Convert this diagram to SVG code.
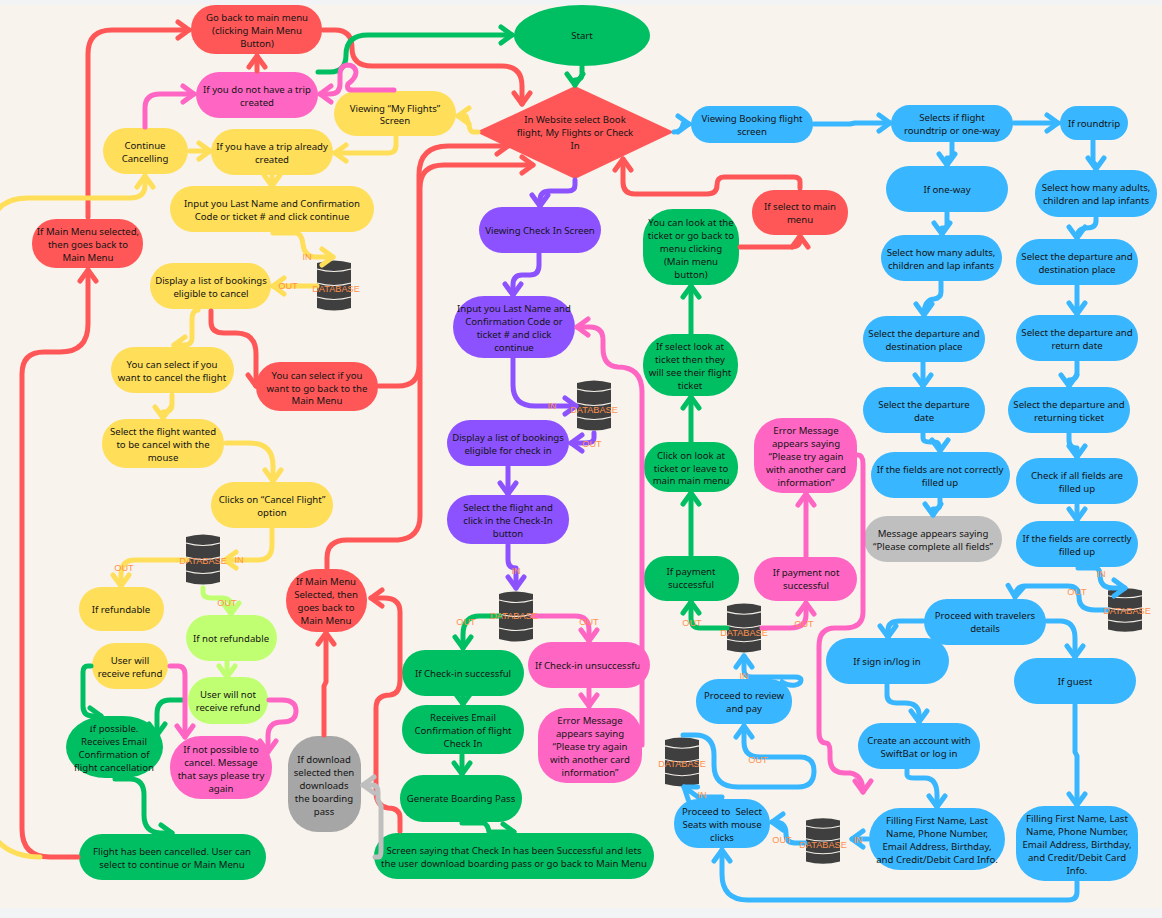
<svg xmlns="http://www.w3.org/2000/svg" width="1162" height="918" viewBox="0 0 1162 918">
<style>
.t{font-family:"Noto Sans","Open Sans",sans-serif;font-size:9.6px;fill:#151515;text-anchor:middle;white-space:pre}
.o{font-family:"Liberation Sans",Arial,sans-serif;font-size:9.2px;fill:#FF914D;text-anchor:middle}
.c path{fill:none;stroke-width:5;stroke-linecap:round;stroke-linejoin:round}
.r{stroke:#FF5757;marker-end:url(#mr)}.g{stroke:#00BF63;marker-end:url(#mg)}.p{stroke:#FF66C4;marker-end:url(#mp)}.y{stroke:#FFDE59;marker-end:url(#my)}.v{stroke:#8C52FF;marker-end:url(#mv)}.b{stroke:#38B6FF;marker-end:url(#mb)}.l{stroke:#C1FF72;marker-end:url(#ml)}.s{stroke:#BFBFBF;marker-end:url(#ms)}
.fr{fill:#FF5757}.fg{fill:#00BF63}.fp{fill:#FF66C4}.fy{fill:#FFDE59}.fv{fill:#8C52FF}.fb{fill:#38B6FF}.fl{fill:#C1FF72}.fs{fill:#BFBFBF}.fd{fill:#A6A6A6}
</style>
<defs>
<marker id="mr" markerUnits="userSpaceOnUse" overflow="visible" orient="auto" refX="0" refY="0" markerWidth="1" markerHeight="1"><path d="M-11,-8L0,0L-11,8" fill="none" stroke="#FF5757" stroke-width="5" stroke-linecap="round" stroke-linejoin="round"/></marker>
<marker id="mg" markerUnits="userSpaceOnUse" overflow="visible" orient="auto" refX="0" refY="0" markerWidth="1" markerHeight="1"><path d="M-11,-8L0,0L-11,8" fill="none" stroke="#00BF63" stroke-width="5" stroke-linecap="round" stroke-linejoin="round"/></marker>
<marker id="mp" markerUnits="userSpaceOnUse" overflow="visible" orient="auto" refX="0" refY="0" markerWidth="1" markerHeight="1"><path d="M-11,-8L0,0L-11,8" fill="none" stroke="#FF66C4" stroke-width="5" stroke-linecap="round" stroke-linejoin="round"/></marker>
<marker id="my" markerUnits="userSpaceOnUse" overflow="visible" orient="auto" refX="0" refY="0" markerWidth="1" markerHeight="1"><path d="M-11,-8L0,0L-11,8" fill="none" stroke="#FFDE59" stroke-width="5" stroke-linecap="round" stroke-linejoin="round"/></marker>
<marker id="mv" markerUnits="userSpaceOnUse" overflow="visible" orient="auto" refX="0" refY="0" markerWidth="1" markerHeight="1"><path d="M-11,-8L0,0L-11,8" fill="none" stroke="#8C52FF" stroke-width="5" stroke-linecap="round" stroke-linejoin="round"/></marker>
<marker id="mb" markerUnits="userSpaceOnUse" overflow="visible" orient="auto" refX="0" refY="0" markerWidth="1" markerHeight="1"><path d="M-11,-8L0,0L-11,8" fill="none" stroke="#38B6FF" stroke-width="5" stroke-linecap="round" stroke-linejoin="round"/></marker>
<marker id="ml" markerUnits="userSpaceOnUse" overflow="visible" orient="auto" refX="0" refY="0" markerWidth="1" markerHeight="1"><path d="M-11,-8L0,0L-11,8" fill="none" stroke="#C1FF72" stroke-width="5" stroke-linecap="round" stroke-linejoin="round"/></marker>
<marker id="ms" markerUnits="userSpaceOnUse" overflow="visible" orient="auto" refX="0" refY="0" markerWidth="1" markerHeight="1"><path d="M-11,-8L0,0L-11,8" fill="none" stroke="#BFBFBF" stroke-width="5" stroke-linecap="round" stroke-linejoin="round"/></marker>
<symbol id="db" viewBox="0 0 34 53" preserveAspectRatio="none" overflow="visible">
<path d="M0,4Q17,-1 34,4V49Q17,54 0,49Z" fill="#3F3F3F"/>
<path d="M0,10Q17,15 34,10M0,24Q17,29 34,24M0,38Q17,43 34,38" fill="none" stroke="#F4EFE8" stroke-width="1.2"/>
</symbol>
</defs>
<rect x="0" y="0" width="1162" height="918" fill="#F1F3F5"/>
<rect x="0" y="5" width="1162" height="903" fill="#F8F4ED"/>

<g id="nodes">
<g id="go-back"><rect class="fr" x="191" y="5" width="131" height="49" rx="24"/><text class="t" x="257" y="21"><tspan x="257">Go back to main menu</tspan><tspan x="257" dy="13">(clicking Main Menu</tspan><tspan x="257" dy="13">Button)</tspan></text></g>
<g id="no-trip"><rect class="fp" x="196" y="72" width="122" height="46" rx="23"/><text class="t" x="257" y="93"><tspan x="257">If you do not have a trip</tspan><tspan x="257" dy="13">created</tspan></text></g>
<g id="my-flights"><rect class="fy" x="334" y="91" width="122" height="45" rx="22.5"/><text class="t" x="395" y="112"><tspan x="395">Viewing “My Flights”</tspan><tspan x="395" dy="12">Screen</tspan></text></g>
<g id="continue"><rect class="fy" x="103" y="128" width="85" height="46" rx="23"/><text class="t" x="145" y="149"><tspan x="145">Continue</tspan><tspan x="145" dy="13">Cancelling</tspan></text></g>
<g id="have-trip"><rect class="fy" x="211" y="129" width="122" height="46" rx="23"/><text class="t" x="272" y="150"><tspan x="272">If you have a trip already</tspan><tspan x="272" dy="13">created</tspan></text></g>
<g id="input-cancel"><rect class="fy" x="170" y="186" width="204" height="46" rx="23"/><text class="t" x="272" y="207"><tspan x="272">Input you Last Name and Confirmation</tspan><tspan x="272" dy="13">Code or ticket # and click continue</tspan></text></g>
<g id="main-selected"><rect class="fr" x="32" y="219" width="111" height="49" rx="24"/><text class="t" x="88" y="235"><tspan x="88">If Main Menu selected,</tspan><tspan x="88" dy="13">then goes back to</tspan><tspan x="88" dy="13">Main Menu</tspan></text></g>
<g id="display-cancel"><rect class="fy" x="150" y="263" width="121" height="46" rx="23"/><text class="t" x="211" y="284"><tspan x="211">Display a list of bookings</tspan><tspan x="211" dy="13">eligible to cancel</tspan></text></g>
<g id="select-cancel"><rect class="fy" x="111" y="347" width="123" height="46" rx="23"/><text class="t" x="172" y="368"><tspan x="172">You can select if you</tspan><tspan x="172" dy="13">want to cancel the flight</tspan></text></g>
<g id="select-main"><rect class="fr" x="256" y="362" width="122" height="49" rx="24"/><text class="t" x="317" y="379"><tspan x="317">You can select if you</tspan><tspan x="317" dy="13">want to go back to the</tspan><tspan x="317" dy="12">Main Menu</tspan></text></g>
<g id="select-flight"><rect class="fy" x="102" y="419" width="122" height="49" rx="24"/><text class="t" x="163" y="435"><tspan x="163">Select the flight wanted</tspan><tspan x="163" dy="13">to be cancel with the</tspan><tspan x="163" dy="13">mouse</tspan></text></g>
<g id="cancel-flight"><rect class="fy" x="211" y="482" width="122" height="46" rx="23"/><text class="t" x="272" y="503"><tspan x="272">Clicks on “Cancel Flight”</tspan><tspan x="272" dy="13">option</tspan></text></g>
<g id="refundable"><rect class="fy" x="79" y="587" width="85" height="44" rx="22"/><text class="t" x="121" y="613">If refundable</text></g>
<g id="not-refundable"><rect class="fl" x="186" y="615" width="91" height="46" rx="23"/><text class="t" x="231" y="642">If not refundable</text></g>
<g id="receive-refund"><rect class="fy" x="92" y="643" width="76" height="46" rx="23"/><text class="t" x="130" y="664"><tspan x="130">User will</tspan><tspan x="130" dy="13">receive refund</tspan></text></g>
<g id="no-refund"><rect class="fl" x="188" y="677" width="80" height="47" rx="23"/><text class="t" x="228" y="698"><tspan x="228">User will not</tspan><tspan x="228" dy="13">receive refund</tspan></text></g>
<g id="if-possible"><rect class="fg" x="66" y="716" width="97" height="62" rx="40" ry="31"/><text class="t" x="114" y="732"><tspan x="114">If possible.</tspan><tspan x="114" dy="13">Receives Email</tspan><tspan x="114" dy="13">Confirmation of</tspan><tspan x="114" dy="13">flight cancellation</tspan></text></g>
<g id="not-possible"><rect class="fp" x="170" y="736" width="102" height="63" rx="31"/><text class="t" x="221" y="753"><tspan x="221">If not possible to</tspan><tspan x="221" dy="13">cancel. Message</tspan><tspan x="221" dy="13">that says please try</tspan><tspan x="221" dy="13">again</tspan></text></g>
<g id="flight-cancelled"><rect class="fg" x="79" y="834" width="187" height="46" rx="23"/><text class="t" x="172" y="855"><tspan x="172">Flight has been cancelled. User can</tspan><tspan x="172" dy="13">select to continue or Main Menu</tspan></text></g>
<g id="download"><rect class="fd" x="288" y="736" width="73" height="96" rx="30"/><text class="t" x="324" y="763"><tspan x="324">If download</tspan><tspan x="324" dy="13">selected then</tspan><tspan x="324" dy="13">downloads</tspan><tspan x="324" dy="13">the boarding</tspan><tspan x="324" dy="13">pass</tspan></text></g>
<g id="main-selected-2"><rect class="fr" x="286" y="569" width="81" height="63" rx="31"/><text class="t" x="326" y="585"><tspan x="326">If Main Menu</tspan><tspan x="326" dy="13">Selected, then</tspan><tspan x="326" dy="13">goes back to</tspan><tspan x="326" dy="13">Main Menu</tspan></text></g>
<g id="screen-success"><rect class="fg" x="374" y="833" width="280" height="46" rx="23"/><text class="t" x="514" y="854"><tspan x="514">Screen saying that Check In has been Successful and lets</tspan><tspan x="514" dy="13">the user download boarding pass or go back to Main Menu</tspan></text></g>
<g id="boarding-pass"><rect class="fg" x="400" y="775" width="122" height="47" rx="23"/><text class="t" x="461" y="802">Generate Boarding Pass</text></g>
<g id="email-checkin"><rect class="fg" x="402" y="705" width="122" height="49" rx="24"/><text class="t" x="463" y="721"><tspan x="463">Receives Email</tspan><tspan x="463" dy="13">Confirmation of flight</tspan><tspan x="463" dy="13">Check In</tspan></text></g>
<g id="checkin-ok"><rect class="fg" x="402" y="650" width="122" height="46" rx="23"/><text class="t" x="463" y="677">If Check-in successful</text></g>
<g id="checkin-fail"><rect class="fp" x="528" y="642" width="122" height="46" rx="23"/><text class="t" x="589" y="669">If Check-in unsuccessful</text></g>
<g id="error-checkin"><rect class="fp" x="538" y="708" width="104" height="75" rx="28"/><text class="t" x="590" y="724"><tspan x="590">Error Message</tspan><tspan x="590" dy="13">appears saying</tspan><tspan x="590" dy="13">“Please try again</tspan><tspan x="590" dy="13">with another card</tspan><tspan x="590" dy="13">information”</tspan></text></g>
<g id="view-checkin"><rect class="fv" x="479" y="207" width="122" height="46" rx="23"/><text class="t" x="540" y="234">Viewing Check In Screen</text></g>
<g id="input-checkin"><rect class="fv" x="453" y="296" width="122" height="62" rx="31"/><text class="t" x="514" y="312"><tspan x="514">Input you Last Name and</tspan><tspan x="514" dy="13">Confirmation Code or</tspan><tspan x="514" dy="13">ticket # and click</tspan><tspan x="514" dy="13">continue</tspan></text></g>
<g id="display-checkin"><rect class="fv" x="447" y="420" width="122" height="46" rx="23"/><text class="t" x="508" y="441"><tspan x="508">Display a list of bookings</tspan><tspan x="508" dy="13">eligible for check in</tspan></text></g>
<g id="select-checkin"><rect class="fv" x="447" y="495" width="122" height="49" rx="24"/><text class="t" x="508" y="511"><tspan x="508">Select the flight and</tspan><tspan x="508" dy="13">click in the Check-In</tspan><tspan x="508" dy="13">button</tspan></text></g>
<g id="start"><ellipse class="fg" cx="582" cy="35.5" rx="68" ry="30.5"/><text class="t" x="582" y="39">Start</text></g>
<g id="website"><polygon class="fr" points="476,132 575,86 674,132 575,179"/><text class="t" x="575" y="123"><tspan x="575">In Website select Book</tspan><tspan x="575" dy="13">flight, My Flights or Check</tspan><tspan x="575" dy="13">In</tspan></text></g>
<g id="view-booking"><rect class="fb" x="691" y="106" width="122" height="37" rx="18.5"/><text class="t" x="752" y="122"><tspan x="752">Viewing Booking flight</tspan><tspan x="752" dy="13">screen</tspan></text></g>
<g id="select-to-main"><rect class="fr" x="752" y="190" width="96" height="45" rx="22"/><text class="t" x="800" y="210"><tspan x="800">If select to main</tspan><tspan x="800" dy="13">menu</tspan></text></g>
<g id="look-ticket"><rect class="fg" x="643" y="209" width="96" height="76" rx="30"/><text class="t" x="691" y="226"><tspan x="691">You can look at the</tspan><tspan x="691" dy="13">ticket or go back to</tspan><tspan x="691" dy="13">menu clicking</tspan><tspan x="691" dy="13">(Main menu</tspan><tspan x="691" dy="13">button)</tspan></text></g>
<g id="see-ticket"><rect class="fg" x="643" y="334" width="95" height="62" rx="30"/><text class="t" x="690" y="350"><tspan x="690">If select look at</tspan><tspan x="690" dy="13">ticket then they</tspan><tspan x="690" dy="13">will see their flight</tspan><tspan x="690" dy="13">ticket</tspan></text></g>
<g id="click-look"><rect class="fg" x="644" y="442" width="94" height="50" rx="24"/><text class="t" x="691" y="459"><tspan x="691">Click on look at</tspan><tspan x="691" dy="13">ticket or leave to</tspan><tspan x="691" dy="12">main main menu</tspan></text></g>
<g id="pay-ok"><rect class="fg" x="644" y="556" width="95" height="45" rx="22"/><text class="t" x="691" y="575"><tspan x="691">If payment</tspan><tspan x="691" dy="13">successful</tspan></text></g>
<g id="pay-fail"><rect class="fp" x="754" y="557" width="103" height="44" rx="22"/><text class="t" x="806" y="576"><tspan x="806">If payment not</tspan><tspan x="806" dy="13">successful</tspan></text></g>
<g id="error-pay"><rect class="fp" x="754" y="418" width="103" height="75" rx="28"/><text class="t" x="806" y="434"><tspan x="806">Error Message</tspan><tspan x="806" dy="13">appears saying</tspan><tspan x="806" dy="13">“Please try again</tspan><tspan x="806" dy="13">with another card</tspan><tspan x="806" dy="13">information”</tspan></text></g>
<g id="review"><rect class="fb" x="696" y="679" width="96" height="45" rx="22"/><text class="t" x="744" y="699"><tspan x="744">Proceed to review</tspan><tspan x="744" dy="13">and pay</tspan></text></g>
<g id="seats"><rect class="fb" x="674" y="799" width="96" height="49" rx="24"/><text class="t" x="722" y="815"><tspan x="722">Proceed to  Select</tspan><tspan x="722" dy="13">Seats with mouse</tspan><tspan x="722" dy="13">clicks</tspan></text></g>
<g id="fill-left"><rect class="fb" x="869" y="808" width="136" height="62" rx="31"/><text class="t" x="937" y="824"><tspan x="937">Filling First Name, Last</tspan><tspan x="937" dy="13">Name, Phone Number,</tspan><tspan x="937" dy="13">Email Address, Birthday,</tspan><tspan x="937" dy="13">and Credit/Debit Card Info.</tspan></text></g>
<g id="create-account"><rect class="fb" x="858" y="723" width="122" height="46" rx="23"/><text class="t" x="919" y="744"><tspan x="919">Create an account with</tspan><tspan x="919" dy="13">SwiftBat or log in</tspan></text></g>
<g id="sign-in"><rect class="fb" x="826" y="638" width="123" height="46" rx="23"/><text class="t" x="887" y="665">If sign in/log in</text></g>
<g id="travelers"><rect class="fb" x="924" y="599" width="122" height="46" rx="23"/><text class="t" x="985" y="619"><tspan x="985">Proceed with travelers</tspan><tspan x="985" dy="13">details</tspan></text></g>
<g id="guest"><rect class="fb" x="1014" y="658" width="122" height="46" rx="23"/><text class="t" x="1075" y="685">If guest</text></g>
<g id="fill-right"><rect class="fb" x="1016" y="806" width="122" height="75" rx="28"/><text class="t" x="1077" y="822"><tspan x="1077">Filling First Name, Last</tspan><tspan x="1077" dy="13">Name, Phone Number,</tspan><tspan x="1077" dy="13">Email Address, Birthday,</tspan><tspan x="1077" dy="13">and Credit/Debit Card</tspan><tspan x="1077" dy="13">Info.</tspan></text></g>
<g id="message"><rect class="fs" x="864" y="516" width="138" height="46" rx="23"/><text class="t" x="933" y="537"><tspan x="933">Message appears saying</tspan><tspan x="933" dy="13">“Please complete all fields”</tspan></text></g>
<g id="fields-ok"><rect class="fb" x="1016" y="521" width="122" height="46" rx="23"/><text class="t" x="1077" y="542"><tspan x="1077">If the fields are correctly</tspan><tspan x="1077" dy="13">filled up</tspan></text></g>
<g id="check-fields"><rect class="fb" x="1016" y="458" width="122" height="46" rx="23"/><text class="t" x="1077" y="479"><tspan x="1077">Check if all fields are</tspan><tspan x="1077" dy="13">filled up</tspan></text></g>
<g id="returning"><rect class="fb" x="1008" y="387" width="122" height="46" rx="23"/><text class="t" x="1069" y="408"><tspan x="1069">Select the departure and</tspan><tspan x="1069" dy="13">returning ticket</tspan></text></g>
<g id="return-date"><rect class="fb" x="1016" y="315" width="122" height="46" rx="23"/><text class="t" x="1077" y="336"><tspan x="1077">Select the departure and</tspan><tspan x="1077" dy="13">return date</tspan></text></g>
<g id="dest-right"><rect class="fb" x="1016" y="239" width="122" height="46" rx="23"/><text class="t" x="1077" y="260"><tspan x="1077">Select the departure and</tspan><tspan x="1077" dy="13">destination place</tspan></text></g>
<g id="adults-right"><rect class="fb" x="1035" y="170" width="122" height="47" rx="23"/><text class="t" x="1096" y="191"><tspan x="1096">Select how many adults,</tspan><tspan x="1096" dy="13">children and lap infants</tspan></text></g>
<g id="roundtrip"><rect class="fb" x="1060" y="106" width="68" height="34" rx="17"/><text class="t" x="1094" y="127">If roundtrip</text></g>
<g id="selects-flight"><rect class="fb" x="891" y="105" width="122" height="37" rx="18.5"/><text class="t" x="952" y="121"><tspan x="952">Selects if flight</tspan><tspan x="952" dy="13">roundtrip or one-way</tspan></text></g>
<g id="one-way"><rect class="fb" x="886" y="166" width="122" height="46" rx="23"/><text class="t" x="947" y="193">If one-way</text></g>
<g id="adults-left"><rect class="fb" x="881" y="235" width="121" height="46" rx="23"/><text class="t" x="941" y="256"><tspan x="941">Select how many adults,</tspan><tspan x="941" dy="13">children and lap infants</tspan></text></g>
<g id="dest-left"><rect class="fb" x="863" y="316" width="122" height="46" rx="23"/><text class="t" x="924" y="337"><tspan x="924">Select the departure and</tspan><tspan x="924" dy="13">destination place</tspan></text></g>
<g id="dep-date"><rect class="fb" x="863" y="387" width="122" height="46" rx="23"/><text class="t" x="924" y="408"><tspan x="924">Select the departure</tspan><tspan x="924" dy="13">date</tspan></text></g>
<g id="fields-not"><rect class="fb" x="871" y="452" width="139" height="46" rx="23"/><text class="t" x="940" y="473"><tspan x="940">If the fields are not correctly</tspan><tspan x="940" dy="13">filled up</tspan></text></g>
<g id="db1"><use href="#db" x="317" y="259" width="34" height="53"/></g>
<g id="db2"><use href="#db" x="186" y="533" width="34" height="53"/></g>
<g id="db3"><use href="#db" x="577" y="379" width="34" height="53"/></g>
<g id="db4"><use href="#db" x="499" y="590" width="34" height="53"/></g>
<g id="db5"><use href="#db" x="727" y="602" width="34" height="52"/></g>
<g id="db6"><use href="#db" x="665" y="736" width="34" height="52"/></g>
<g id="db7"><use href="#db" x="806" y="817" width="34" height="48"/></g>
<g id="db8"><use href="#db" x="1108" y="587" width="34" height="46"/></g>
</g>

<g id="connectors" class="c">
<path class="r" d="M88,217V54Q88,30 112,30H189"/>
<path class="r" d="M78,857H50Q22,857 22,829V374Q22,352 44,352H60Q88,352 88,324V270"/>
<path class="y" d="M40,857Q4,857 -10,830V230Q-6,198 28,198H130Q145,198 145,185V176"/>
<path class="r" d="M323,30H335Q352,30 352,48Q352,66 372,66H502Q522,66 522,86V104"/>
<path class="r" d="M257,71V56"/>
<path class="r" d="M379,386H398Q419,386 419,365V175Q419,146 448,146H508"/>
<path class="r" d="M327,568V558Q327,540 347,540H398Q420,538 420,516V188Q420,165 444,165H533"/>
<path class="r" d="M324,735V686L326,682V633"/>
<path class="r" d="M400,831V818Q400,808 388,808Q376,806 376,792V708Q376,695 390,695Q400,694 400,680V612Q400,598 384,598H371"/>
<path class="r" d="M800,188V182Q800,177 794,177H724Q717,177 717,185Q717,194 707,194H635Q623,194 623,182V159"/>
<path class="r" d="M740,247H790Q800,247 800,240V236"/>
<path class="r" d="M211,311V322Q211,333 224,333H236Q256,333 256,354V386"/>
<path class="g" d="M318,72H330Q346,72 346,55Q346,35 368,35H512"/>
<path class="g" d="M582,67V74Q582,80 575,80V85"/>
<path class="g" d="M691,555V493"/>
<path class="g" d="M691,442V397"/>
<path class="g" d="M691,334V286"/>
<path class="g" d="M727,628H700Q691,628 691,618V602"/>
<path class="g" d="M500,616H480Q463,616 463,635V648"/>
<path class="g" d="M463,697V704"/>
<path class="g" d="M462,755V774"/>
<path class="g" d="M462,823H484Q488,825 489,832H514"/>
<path class="g" d="M91,666H88Q83,666 83,672V706Q83,716 93,716H101"/>
<path class="g" d="M184,700H170Q157,700 157,714V735"/>
<path class="g" d="M115,779H130Q144,779 144,795V815Q144,832 160,833H172"/>
<path class="p" d="M145,127V108Q145,94 160,94H194"/>
<path class="p" d="M394,90H352Q346,90 348,84Q356,78 356,72Q355,65 347,65Q340,66 340,74V84Q340,94 330,94H320"/>
<path class="p" d="M170,666H178Q185,666 185,675V737"/>
<path class="p" d="M269,700H282Q296,700 296,711Q296,722 282,722Q268,722 268,736V752"/>
<path class="p" d="M533,616H575Q589,616 589,630V641"/>
<path class="p" d="M589,689V706"/>
<path class="p" d="M642,745V392Q642,367 618,367Q603,366 603,348V340Q603,327 590,327H577"/>
<path class="p" d="M806,556V494"/>
<path class="p" d="M762,628H790Q806,628 806,615V603"/>
<path class="p" d="M858,455Q863,455 863,464V612Q863,628 845,628H835Q819,628 819,646V732Q819,743 826,743Q830,743 830,752V758Q830,773 845,773H850Q863,775 863,792"/>
<path class="y" d="M478,132H473Q470,132 469,125L466,116H458"/>
<path class="y" d="M396,137V145Q396,153 388,153H335"/>
<path class="y" d="M190,151H210"/>
<path class="y" d="M272,176V186"/>
<path class="y" d="M273,233H295Q302,233 303,245Q305,257 315,257H333"/>
<path class="y" d="M317,286H273"/>
<path class="y" d="M198,310Q192,310 192,320V338Q192,345 184,345H174"/>
<path class="y" d="M172,395V404Q172,412 163,412V418"/>
<path class="y" d="M226,443H250Q273,443 273,466V481"/>
<path class="y" d="M272,529V545Q272,560 258,560H225"/>
<path class="y" d="M187,560H135Q121,560 121,575V586"/>
<path class="l" d="M203,588V592Q203,598 212,598H222Q231,598 231,606V614"/>
<path class="l" d="M227,662V677"/>
<path class="s" d="M375,857H379Q381,857 381,850V806L378,800V792Q378,785 372,785H363"/>
<path class="v" d="M575,180V185Q575,191 568,191H550Q540,191 540,200V206"/>
<path class="v" d="M539,254V265Q539,275 530,275H522Q513,275 513,285V295"/>
<path class="v" d="M513,359V385Q513,406 535,406H576"/>
<path class="v" d="M594,433V438Q594,443 585,443H571"/>
<path class="v" d="M508,467V494"/>
<path class="v" d="M508,545V560Q508,568 516,568V588"/>
<path class="b" d="M674,132Q682,132 683,124H689"/>
<path class="b" d="M814,124H850L855,123H890"/>
<path class="b" d="M1014,123H1058"/>
<path class="b" d="M952,143V155Q952,158 947,158V165"/>
<path class="b" d="M1093,141V162L1096,165V169"/>
<path class="b" d="M947,213V225Q947,228 942,228V234"/>
<path class="b" d="M1096,218V221Q1096,228 1086,228Q1077,229 1077,238"/>
<path class="b" d="M1077,286V314"/>
<path class="b" d="M941,282V292Q941,298 934,299Q924,300 924,315"/>
<path class="b" d="M923,362V386"/>
<path class="b" d="M1077,362V372Q1077,380 1069,380V386"/>
<path class="b" d="M1069,433V440Q1069,448 1077,448V457"/>
<path class="b" d="M923,433V438Q923,442 930,442H935Q940,442 940,451"/>
<path class="b" d="M940,499V505Q940,509 933,509V515"/>
<path class="b" d="M1077,505V520"/>
<path class="b" d="M1078,568H1095Q1100,568 1100,575Q1100,588 1113,588H1125"/>
<path class="b" d="M1107,610H1095Q1079,610 1079,597Q1079,586 1068,586H1025Q1016,586 1015,597"/>
<path class="b" d="M923,621H900Q888,621 888,630V637"/>
<path class="b" d="M1047,621H1060Q1075,621 1075,638V657"/>
<path class="b" d="M1075,705V752L1077,756V805"/>
<path class="b" d="M887,685V695Q887,703 897,703H905Q919,703 919,715V722"/>
<path class="b" d="M907,770V775Q907,778 915,778H925Q937,778 937,795V807"/>
<path class="b" d="M1077,882V892Q1077,900 1068,900H748Q722,900 722,874V850"/>
<path class="b" d="M868,839H852"/>
<path class="b" d="M805,843H795Q786,843 786,834Q786,822 775,822H772"/>
<path class="b" d="M722,797H698L684,787"/>
<path class="b" d="M683,735H695Q714,735 714,755V765Q714,787 738,787H798Q814,787 814,771Q814,757 800,757H760Q744,757 744,742V726"/>
<path class="b" d="M782,682Q788,686 795,685Q801,684 801,680Q801,677 795,677H752Q744,677 744,670V656"/>
</g>

<g id="labels">
<text class="o" x="336" y="292">DATABASE</text><text class="o" x="307" y="260">IN</text><text class="o" x="288" y="289">OUT</text>
<text class="o" x="203" y="564">DATABASE</text><text class="o" x="239" y="563">IN</text><text class="o" x="124" y="571">OUT</text><text class="o" x="227" y="606">OUT</text>
<text class="o" x="594" y="413">DATABASE</text><text class="o" x="552" y="409">IN</text><text class="o" x="592" y="447">OUT</text>
<text class="o" x="514" y="619">DATABASE</text><text class="o" x="516" y="574">IN</text><text class="o" x="466" y="625">OUT</text><text class="o" x="589" y="625">OUT</text>
<text class="o" x="744" y="636">DATABASE</text><text class="o" x="692" y="626">OUT</text><text class="o" x="804" y="627">OUT</text><text class="o" x="744" y="679">IN</text>
<text class="o" x="682" y="767">DATABASE</text><text class="o" x="702" y="798">IN</text><text class="o" x="758" y="763">OUT</text>
<text class="o" x="823" y="848">DATABASE</text><text class="o" x="782" y="843">OUT</text><text class="o" x="858" y="843">IN</text>
<text class="o" x="1127" y="614">DATABASE</text><text class="o" x="1101" y="577">IN</text><text class="o" x="1077" y="595">OUT</text>
</g>
</svg>
